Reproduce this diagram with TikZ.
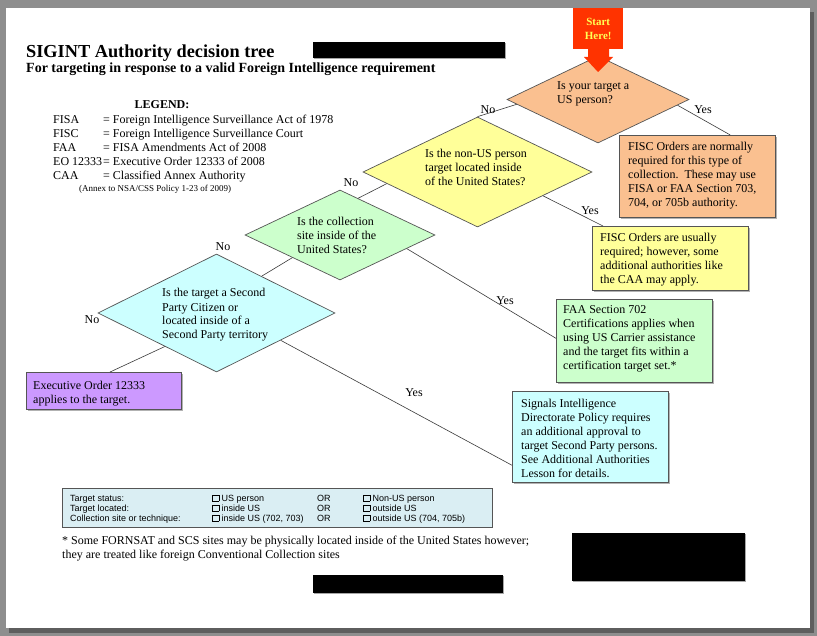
\documentclass[tikz,border=0pt]{standalone}
\usepackage{fontspec}
\setmainfont{Liberation Serif}
\setsansfont{Liberation Sans}
\usetikzlibrary{shapes.geometric,calc,shadows}
\definecolor{bggray}{HTML}{8E8E8E}
\definecolor{shgray}{HTML}{5E5E5E}
\definecolor{peach}{HTML}{FAC090}
\definecolor{ylw}{HTML}{FFFF99}
\definecolor{grn}{HTML}{CCFFCC}
\definecolor{cyn}{HTML}{CCFFFF}
\definecolor{prp}{HTML}{CC99FF}
\definecolor{lgbox}{HTML}{DAEEF3}
\definecolor{startred}{HTML}{FF3300}
\definecolor{startylw}{HTML}{FFFF55}
\definecolor{linegray}{HTML}{555555}
\definecolor{connc}{HTML}{3A3A3A}
\newcommand\cbx{{\setlength\fboxsep{0pt}\setlength\fboxrule{0.5pt}\fbox{\rule{0pt}{6pt}\hspace{6pt}}}}
\tikzset{
  dia/.style={shape=diamond, draw=linegray, line width=0.7pt, inner sep=0pt},
  box/.style={draw=linegray, line width=0.7pt, inner sep=0pt, anchor=north west,
    drop shadow={shadow xshift=1.5pt, shadow yshift=-1.5pt, fill=black, opacity=0.3}},
  txt/.style={inner sep=0pt, align=left, anchor=base west, font=\fontsize{12}{14}\selectfont},
  lbl/.style={inner sep=0pt, font=\fontsize{12}{14}\selectfont},
  conn/.style={draw=connc, line width=0.6pt},
  redact/.style={fill=black, draw=none, inner sep=0pt, anchor=north west,
    drop shadow={shadow xshift=1.2pt, shadow yshift=-1.2pt, fill=black, opacity=0.35}},
  lg/.style={inner sep=0pt, anchor=base west, font=\fontsize{12}{14}\selectfont},
  tb/.style={inner sep=0pt, anchor=base west, font=\sffamily\fontsize{9}{10}\selectfont},
}
\begin{document}
\begin{tikzpicture}[x=1pt,y=-1pt]
\useasboundingbox (0,0) rectangle (817,636);
% page
\fill[bggray] (0,0) rectangle (817,636);
\fill[shgray] (9,12) rectangle (814,633);
\fill[white] (6,8) rectangle (810,628);

% title
\node[inner sep=0pt, anchor=base west, font=\bfseries\fontsize{18.3}{20}\selectfont] (title) at (26,58) {SIGINT Authority decision tree};
\node[inner sep=0pt, anchor=base west, font=\bfseries\fontsize{14}{15}\selectfont] (subtitle) at (26,73) {For targeting in response to a valid Foreign Intelligence requirement};
\node[redact, minimum width=192pt, minimum height=16pt] (r1) at (313,42) {};

% legend
\node[inner sep=0pt, anchor=base, font=\bfseries\fontsize{12}{14}\selectfont] (leg) at (162,109) {LEGEND:};
\node[lg] (a1) at (53,124) {FISA};
\node[lg] (b1) at (103,124) {= Foreign Intelligence Surveillance Act of 1978};
\node[lg] (a2) at (53,138) {FISC};
\node[lg] (b2) at (103,138) {= Foreign Intelligence Surveillance Court};
\node[lg] (a3) at (53,152) {FAA};
\node[lg] (b3) at (103,152) {= FISA Amendments Act of 2008};
\node[lg] (a4) at (53,166) {EO 12333};
\node[lg] (b4) at (103,166) {= Executive Order 12333 of 2008};
\node[lg] (a5) at (53,180) {CAA};
\node[lg] (b5) at (103,180) {= Classified Annex Authority};
\node[inner sep=0pt, anchor=base west, font=\fontsize{9}{10}\selectfont] (annex) at (79,192) {(Annex to NSA/CSS Policy 1-23 of 2009)};

% diamonds
\node[dia, fill=peach, minimum width=182pt, minimum height=87pt] (d1) at (598,99.5) {};
\node[dia, fill=ylw, minimum width=229pt, minimum height=110pt] (d2) at (477.5,172) {};
\node[dia, fill=grn, minimum width=190pt, minimum height=90pt] (d3) at (340,235) {};
\node[dia, fill=cyn, minimum width=237pt, minimum height=118pt] (d4) at (216.5,313) {};

% boxes
\node[box, fill=peach, minimum width=156pt, minimum height=82pt] (ob) at (619,135) {};
\node[box, fill=ylw, minimum width=156pt, minimum height=64pt] (yb) at (592,226) {};
\node[box, fill=grn, minimum width=156pt, minimum height=83pt] (gb) at (556,299) {};
\node[box, fill=prp, minimum width=155pt, minimum height=37pt] (pb) at (26,372) {};
\node[box, fill=cyn, minimum width=156pt, minimum height=91pt] (cb) at (512,391) {};

% connectors
\draw[conn] ($(d1.west)!0.11!(d1.south)$) -- (d2.north);
\draw[conn] ($(d1.east)!0.13!(d1.south)$) -- ($(ob.north west)!0.71!(ob.north east)$);
\draw[conn] ($(d2.west)!0.21!(d2.south)$) -- ($(d3.north)!0.19!(d3.east)$);
\draw[conn] ($(d2.east)!0.43!(d2.south)$) -- ($(yb.north west)!0.07!(yb.north east)$);
\draw[conn] ($(d3.west)!0.5!(d3.south)$) -- ($(d4.north)!0.38!(d4.east)$);
\draw[conn] ($(d3.east)!0.3!(d3.south)$) -- ($(gb.north west)!0.47!(gb.south west)$);
\draw[conn] ($(d4.west)!0.565!(d4.south)$) -- ($(pb.north west)!0.54!(pb.north east)$);
\draw[conn] ($(d4.east)!0.46!(d4.south)$) -- ($(cb.north west)!0.81!(cb.south west)$);

% connector labels
\node[lbl] (n1) at (488,110) {No};
\node[lbl] (y1) at (703,110) {Yes};
\node[lbl] (n2) at (351,183) {No};
\node[lbl] (y2) at (590,211) {Yes};
\node[lbl] (n3) at (223,247) {No};
\node[lbl] (y3) at (505,301) {Yes};
\node[lbl] (n4) at (92,320) {No};
\node[lbl] (y4) at (414,393) {Yes};

% diamond texts (anchor = baseline of the last line)
\node[txt] (d1t) at (557,104) {Is your target a\\US person?};
\node[txt] (d2t) at (425,186) {Is the non-US person\\target located inside\\of the United States?};
\node[txt] (d3t) at (297,254) {Is the collection\\site inside of the\\United States?};
\node[txt] (d4t) at (162,339) {Is the target a Second\\Party Citizen or\\located inside of a\\Second Party territory};

% box texts
\node[txt] (obt) at (628,207) {FISC Orders are normally\\required for this type of\\collection.\ \ These may use\\FISA or FAA Section 703,\\704, or 705b authority.};
\node[txt] (ybt) at (600,284) {FISC Orders are usually\\required; however, some\\additional authorities like\\the CAA may apply.};
\node[txt] (gbt) at (563,370) {FAA Section 702\\Certifications applies when\\using US Carrier assistance\\and the target fits within a\\certification target set.*};
\node[txt] (pbt) at (33,403) {Executive Order 12333\\applies to the target.};
\node[txt] (cbt) at (521,477) {Signals Intelligence\\Directorate Policy requires\\an additional approval to\\target Second Party persons.\\See Additional Authorities\\Lesson for details.};

% start here
\node[fill=startred, inner sep=0pt, minimum width=50pt, minimum height=41pt, anchor=north west] (start) at (573,8) {};
\fill[startred] (588,48) -- (609,48) -- (609,57) -- (613,57) -- (598,72) -- (584,57) -- (588,57) -- cycle;
\node[inner sep=0pt, align=center, text=startylw, font=\bfseries\fontsize{11}{14}\selectfont] (startt) at (start) {Start\\Here!};

% bottom table
\node[draw=linegray, line width=0.7pt, fill=lgbox, inner sep=0pt, minimum width=430pt, minimum height=39pt, anchor=north west] (tbl) at (62,488) {};
\node[tb] (t11) at (70,501) {Target status:};
\node[tb] (t12) at (212,501) {\cbx\ US person};
\node[tb] (t13) at (317,501) {OR};
\node[tb] (t14) at (363,501) {\cbx\ Non-US person};
\node[tb] (t21) at (70,511) {Target located:};
\node[tb] (t22) at (212,511) {\cbx\ inside US};
\node[tb] (t23) at (317,511) {OR};
\node[tb] (t24) at (363,511) {\cbx\ outside US};
\node[tb] (t31) at (70,521) {Collection site or technique:};
\node[tb] (t32) at (212,521) {\cbx\ inside US (702, 703)};
\node[tb] (t33) at (317,521) {OR};
\node[tb] (t34) at (363,521) {\cbx\ outside US (704, 705b)};

% footnote
\node[txt] (foot) at (62,558) {* Some FORNSAT and SCS sites may be physically located inside of the United States however;\\they are treated like foreign Conventional Collection sites};

% redactions
\node[redact, minimum width=173pt, minimum height=48pt] (r2) at (572,533) {};
\node[redact, minimum width=190pt, minimum height=18pt] (r3) at (313,575) {};
\end{tikzpicture}
\end{document}
